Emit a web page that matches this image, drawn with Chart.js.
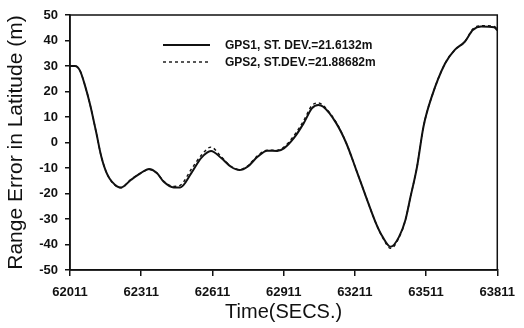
<!DOCTYPE html>
<html>
<head>
<meta charset="utf-8">
<script src="https://cdn.jsdelivr.net/npm/chart.js@4"></script>
<style>
  html, body { margin: 0; padding: 0; background: #fff; }
  #wrap { width: 524px; height: 328px; }
</style>
</head>
<body>
<div id="wrap"><canvas id="chart"></canvas></div>
<script>
// time stamps (s) and latitude range errors (m)
const times = [62011, 62032, 62053, 62073, 62094, 62122, 62143, 62169, 62211, 62226,
  62267, 62309, 62344, 62377, 62406, 62448, 62475, 62522, 62564, 62605,
  62647, 62689, 62725, 62759, 62801, 62842, 62884, 62912, 62953, 62995,
  63030, 63057, 63078, 63133, 63175, 63217, 63258, 63300, 63328, 63362,
  63397, 63424, 63445, 63473, 63500, 63535, 63591, 63632, 63674, 63708,
  63743, 63798, 63811];
const gps1 = [30, 30, 28.2, 22.7, 15.5, 3.7, -5.6, -12.7, -17.3, -17.6,
  -14.7, -12, -10.4, -12, -15.4, -17.6, -17.6, -12, -6, -3.3,
  -6, -9.5, -10.8, -9.5, -5.6, -3.2, -3.3, -2.3, 1.6, 7.5,
  13.4, 14.7, 14, 7.5, -0.3, -10.8, -21.3, -31.7, -37, -40.9,
  -37, -30.4, -21.5, -9.5, 6.2, 18, 31, 36.3, 39.5, 44.1,
  45.5, 45.2, 44];
const gps2 = [30, 30, 28.2, 22.7, 15.5, 3.7, -5.6, -12.7, -17.5, -17.8,
  -14.5, -12, -10.6, -12, -15.2, -17.2, -16.8, -10.5, -5, -1.8,
  -5.5, -9.3, -10.6, -9.2, -5.2, -3, -3, -1.8, 2.5, 8.5,
  14.5, 15.5, 14.5, 7.8, -0.3, -10.8, -21.3, -31.7, -37.3, -41.5,
  -37.3, -30.4, -21.5, -9.5, 6.2, 18, 31, 36.3, 39.5, 44.5,
  45.8, 45.5, 44.5];
const xTicks = [62011, 62311, 62611, 62911, 63211, 63511, 63811];
const seriesLabels = ['GPS1, ST. DEV.=21.6132m', 'GPS2, ST.DEV.=21.88682m'];

const FONT = "'Liberation Sans', Arial, sans-serif";
const INK = '#111';

// box around plot area + legend drawn inside it
const framePlugin = {
  id: 'frame',
  afterDatasetsDraw(chart) {
    const { ctx, chartArea: a } = chart;
    ctx.save();
    ctx.strokeStyle = INK;
    ctx.lineWidth = 1.5;
    ctx.strokeRect(a.left, a.top, a.right - a.left, a.bottom - a.top);

    ctx.font = 'bold 12px ' + FONT;
    ctx.textBaseline = 'middle';
    ctx.fillStyle = INK;
    chart.data.datasets.forEach((ds, i) => {
      const y = 45 + i * 17;
      ctx.beginPath();
      ctx.lineWidth = ds.borderWidth;
      ctx.setLineDash(ds.borderDash || []);
      ctx.moveTo(163, y);
      ctx.lineTo(210, y);
      ctx.stroke();
      ctx.setLineDash([]);
      ctx.fillText(ds.label, 225, y + 1);
    });
    ctx.restore();
  }
};

new Chart(document.getElementById('chart'), {
  type: 'line',
  data: {
    datasets: [
      {
        label: seriesLabels[0],
        data: times.map((t, i) => ({ x: t, y: gps1[i] })),
        borderColor: INK,
        borderWidth: 2,
        pointRadius: 0,
        cubicInterpolationMode: 'monotone'
      },
      {
        label: seriesLabels[1],
        data: times.map((t, i) => ({ x: t, y: gps2[i] })),
        borderColor: INK,
        borderWidth: 1.4,
        borderDash: [3, 3],
        pointRadius: 0,
        cubicInterpolationMode: 'monotone'
      }
    ]
  },
  options: {
    responsive: true,
    maintainAspectRatio: false,
    animation: false,
    layout: { padding: { left: 0, right: 21, top: 15, bottom: 0 } },
    plugins: { legend: { display: false }, tooltip: { enabled: false } },
    scales: {
      x: {
        type: 'linear',
        min: 62011,
        max: 63811,
        afterBuildTicks: axis => { axis.ticks = xTicks.map(v => ({ value: v })); },
        afterFit: s => { s.height = 58; },
        grid: { drawOnChartArea: false, tickLength: 6, color: INK, lineWidth: 1.5 },
        border: { color: INK, width: 1.5 },
        ticks: {
          color: INK, padding: 9, maxRotation: 0, autoSkip: false,
          font: { family: FONT, size: 13, weight: 'bold' },
          callback: v => String(v)
        },
        title: {
          display: true, text: 'Time(SECS.)', color: INK,
          font: { family: FONT, size: 20 }, padding: { top: 0, bottom: 4 }
        }
      },
      y: {
        min: -50,
        max: 50,
        afterFit: s => { s.width = 70; },
        grid: { drawOnChartArea: false, tickLength: 5, color: INK, lineWidth: 1.5 },
        border: { color: INK, width: 1.5 },
        ticks: {
          stepSize: 10, color: INK, padding: 7,
          font: { family: FONT, size: 13, weight: 'bold' }
        },
        title: {
          display: true, text: 'Range Error in Latitude (m)', color: INK,
          font: { family: FONT, size: 21 }, padding: { top: 4, bottom: 0 }
        }
      }
    }
  },
  plugins: [framePlugin]
});
</script>
</body>
</html>
